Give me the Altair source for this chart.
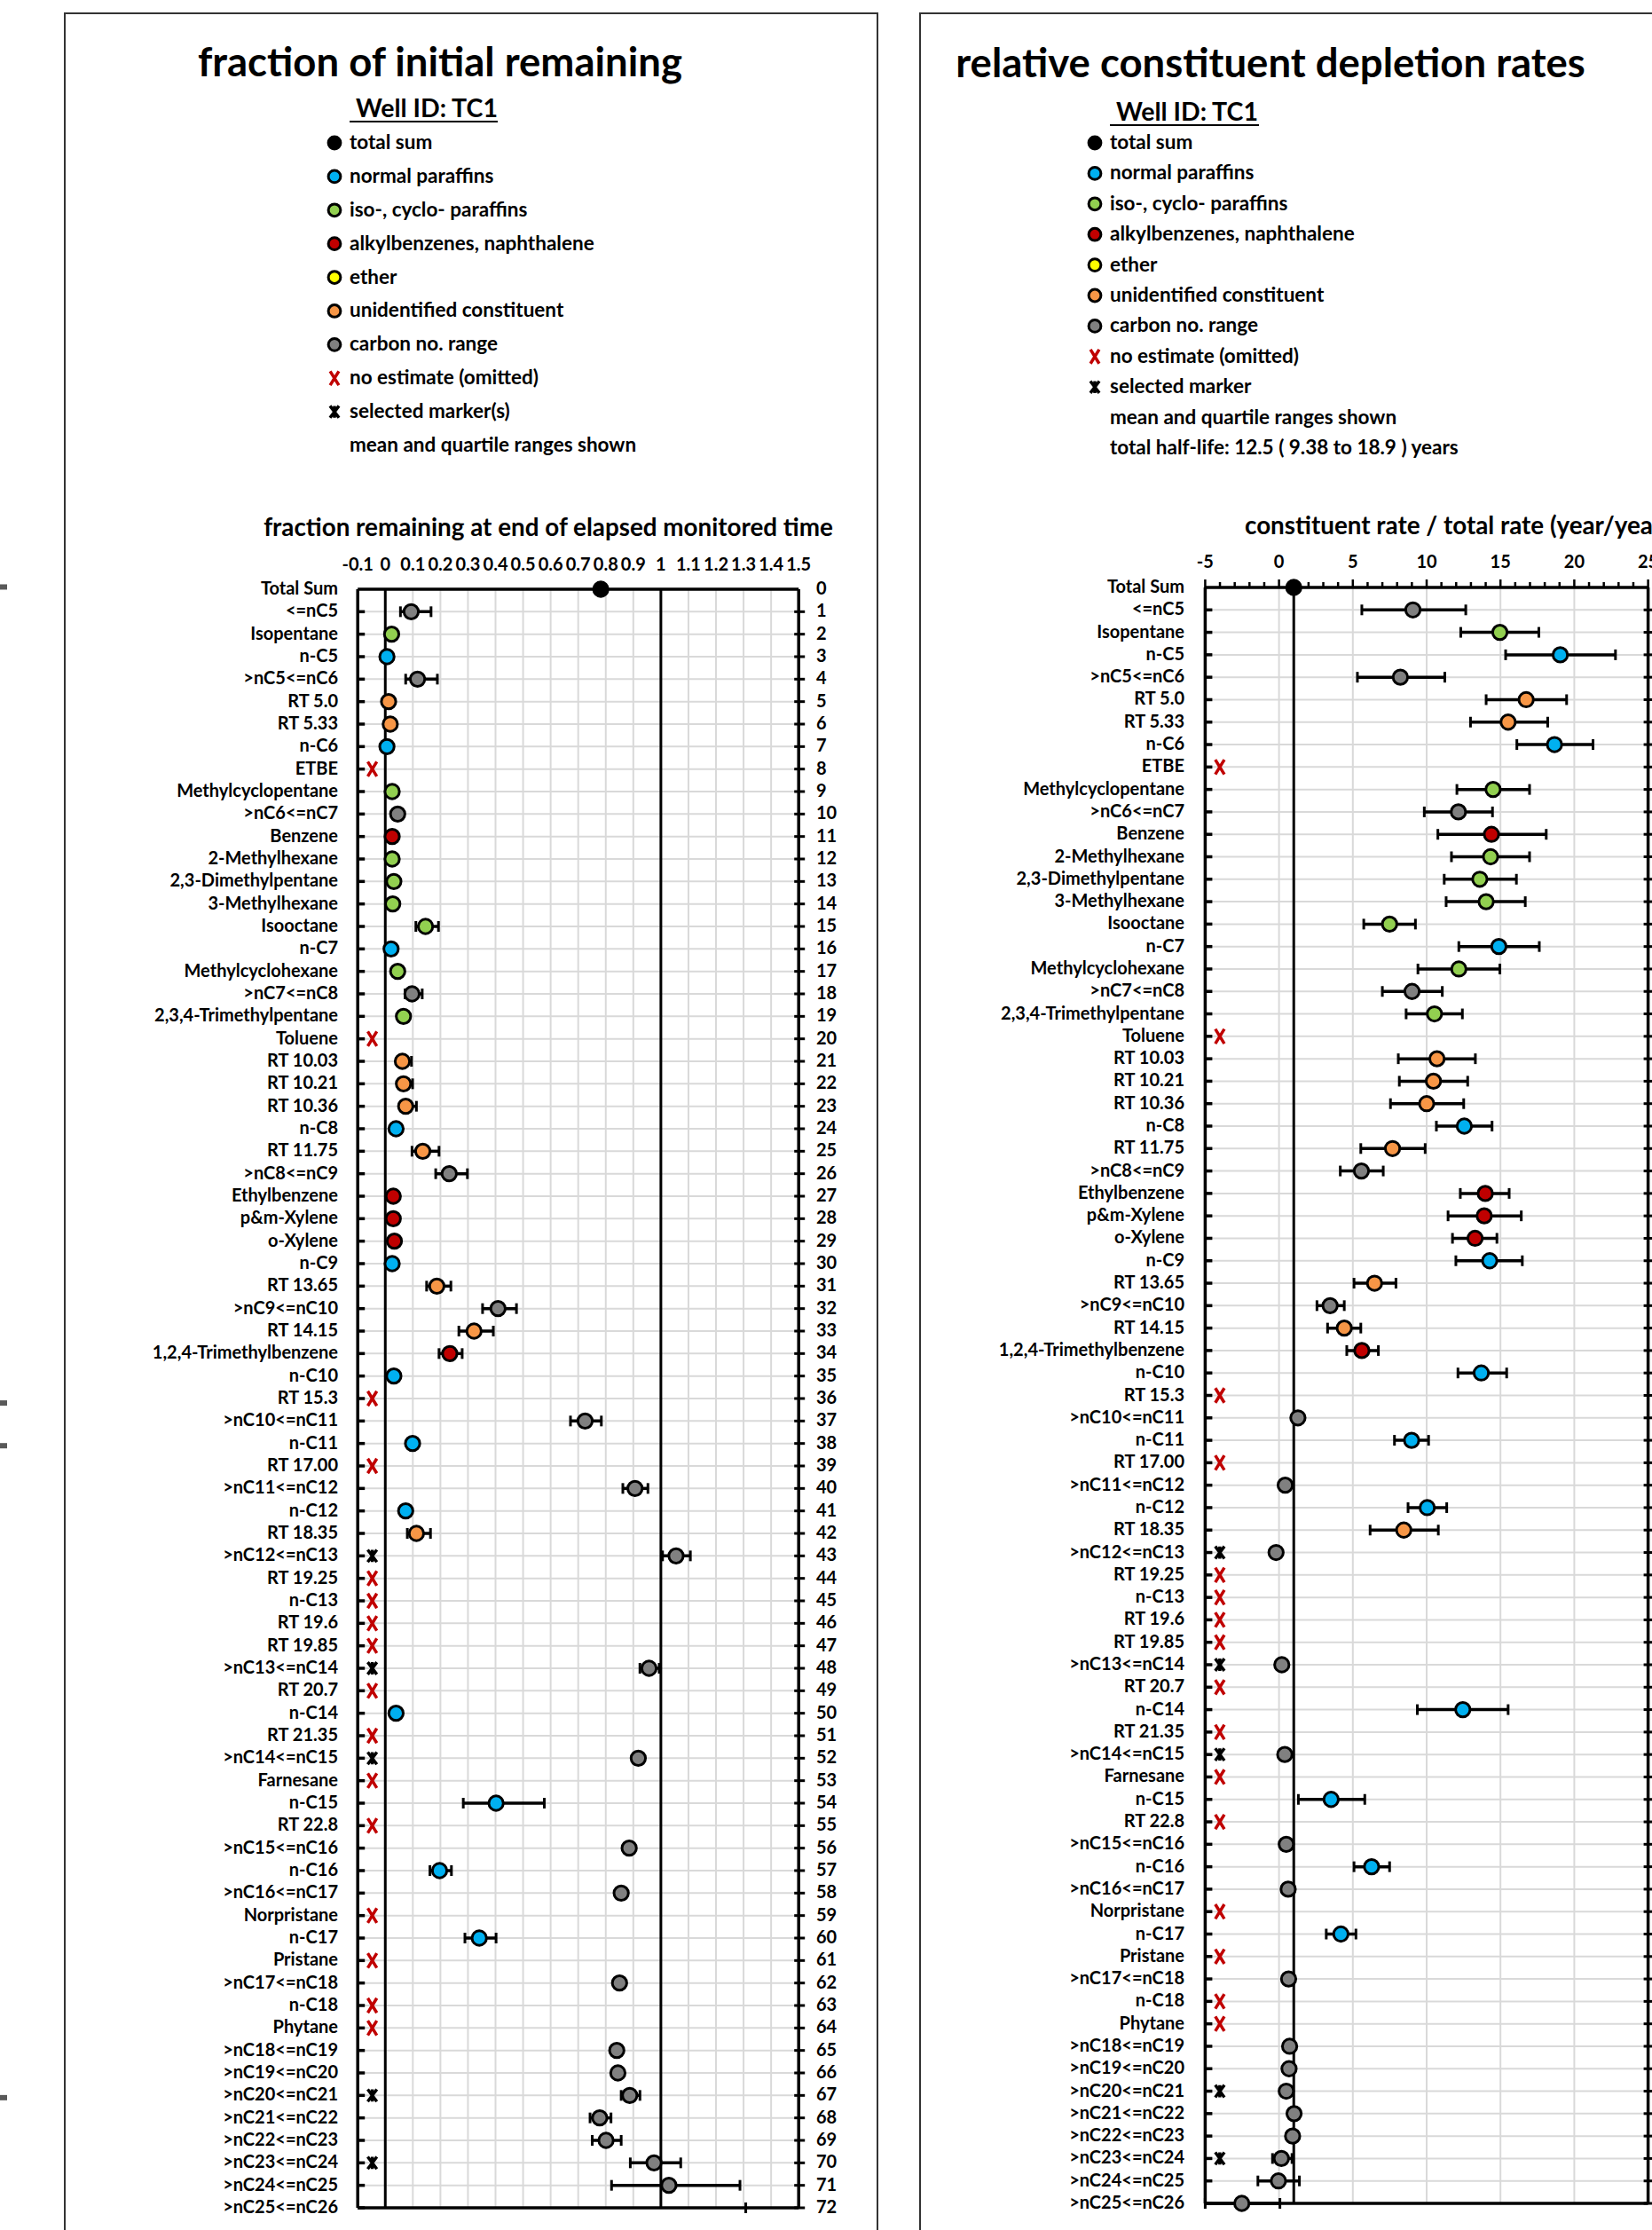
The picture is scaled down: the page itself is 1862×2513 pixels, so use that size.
import altair as alt
import pandas as pd

FONT = "Lato"

# ---------------------------------------------------------------- data
constituents = [
    "Total Sum", "<=nC5", "Isopentane", "n-C5", ">nC5<=nC6", "RT 5.0", "RT 5.33", "n-C6", "ETBE",
    "Methylcyclopentane", ">nC6<=nC7", "Benzene", "2-Methylhexane", "2,3-Dimethylpentane",
    "3-Methylhexane", "Isooctane", "n-C7", "Methylcyclohexane", ">nC7<=nC8", "2,3,4-Trimethylpentane",
    "Toluene", "RT 10.03", "RT 10.21", "RT 10.36", "n-C8", "RT 11.75", ">nC8<=nC9", "Ethylbenzene",
    "p&m-Xylene", "o-Xylene", "n-C9", "RT 13.65", ">nC9<=nC10", "RT 14.15", "1,2,4-Trimethylbenzene",
    "n-C10", "RT 15.3", ">nC10<=nC11", "n-C11", "RT 17.00", ">nC11<=nC12", "n-C12", "RT 18.35",
    ">nC12<=nC13", "RT 19.25", "n-C13", "RT 19.6", "RT 19.85", ">nC13<=nC14", "RT 20.7", "n-C14",
    "RT 21.35", ">nC14<=nC15", "Farnesane", "n-C15", "RT 22.8", ">nC15<=nC16", "n-C16", ">nC16<=nC17",
    "Norpristane", "n-C17", "Pristane", ">nC17<=nC18", "n-C18", "Phytane", ">nC18<=nC19",
    ">nC19<=nC20", ">nC20<=nC21", ">nC21<=nC22", ">nC22<=nC23", ">nC23<=nC24", ">nC24<=nC25",
    ">nC25<=nC26",
]

# T total, N normal paraffin, I iso/cyclo paraffin, A alkylbenzene, E ether,
# U unidentified, C carbon number range
groups = [
    "T", "C", "I", "N", "C", "U", "U", "N", "E", "I",
    "C", "A", "I", "I", "I", "I", "N", "I", "C", "I",
    "A", "U", "U", "U", "N", "U", "C", "A", "A", "A",
    "N", "U", "C", "U", "A", "N", "U", "C", "N", "U",
    "C", "N", "U", "C", "U", "N", "U", "U", "C", "U",
    "N", "U", "C", "I", "N", "U", "C", "N", "C", "I",
    "N", "I", "C", "N", "I", "C", "C", "C", "C", "C",
    "C", "C", "C",
]

group_colors = {
    "T": "#000000", "N": "#00b0f0", "I": "#92d050", "A": "#c00000",
    "E": "#ffff00", "U": "#f79646", "C": "#808080",
}

omitted_rows = [8, 20, 36, 39, 44, 45, 46, 47, 49, 51, 53, 55, 59, 61, 63, 64]
selected_rows = [43, 48, 52, 67, 70]

# fraction of initial remaining: mean and quartiles
frac_mean = [
    0.782, 0.094, 0.023, 0.006, 0.117, 0.012, 0.018, 0.006, None, 0.025,
    0.045, 0.025, 0.025, 0.031, 0.027, 0.146, 0.021, 0.045, 0.097, 0.066,
    None, 0.062, 0.066, 0.074, 0.039, 0.136, 0.232, 0.029, 0.029, 0.033,
    0.025, 0.187, 0.409, 0.322, 0.234, 0.031, None, 0.725, 0.099, None,
    0.906, 0.074, 0.113, 1.055, None, None, None, None, 0.957, None,
    0.039, None, 0.918, None, 0.402, None, 0.885, 0.197, 0.856, None,
    0.341, None, 0.850, None, None, 0.840, 0.844, 0.887, 0.778, 0.801,
    0.975, 1.029, None,
]
frac_lo = [
    None, 0.055, None, None, 0.074, None, None, None, None, None,
    None, None, None, None, None, 0.111, None, None, 0.072, None,
    None, 0.045, 0.050, 0.055, None, 0.097, 0.183, None, None, None,
    None, 0.150, 0.353, 0.267, 0.195, None, None, 0.672, None, None,
    0.862, None, 0.080, 1.006, None, None, None, None, 0.924, None,
    None, None, 0.905, None, 0.283, None, None, 0.162, None, None,
    0.289, None, None, None, None, None, None, 0.856, 0.743, 0.751,
    0.889, 0.821, 1.308,
]
frac_hi = [
    None, 0.166, None, None, 0.189, None, None, None, None, None,
    None, None, None, None, None, 0.193, None, None, 0.134, None,
    None, 0.095, 0.099, 0.113, None, 0.195, 0.298, None, None, None,
    None, 0.238, 0.476, 0.392, 0.279, None, None, 0.784, None, None,
    0.953, None, 0.164, 1.107, None, None, None, None, 0.994, None,
    None, None, 0.930, None, 0.577, None, None, 0.240, None, None,
    0.402, None, None, None, None, None, None, 0.924, 0.819, 0.856,
    1.072, 1.287, None,
]

# constituent rate relative to total rate: mean and quartiles
rate_mean = [
    1.00, 9.07, 14.96, 19.05, 8.22, 16.74, 15.52, 18.66, None, 14.50,
    12.15, 14.39, 14.33, 13.60, 14.03, 7.49, 14.89, 12.18, 9.01, 10.53,
    None, 10.70, 10.46, 10.00, 12.55, 7.69, 5.58, 13.97, 13.90, 13.28,
    14.27, 6.47, 3.46, 4.42, 5.61, 13.70, None, 1.28, 8.98, None,
    0.42, 10.04, 8.45, -0.20, None, None, None, None, 0.19, None,
    12.45, None, 0.39, None, 3.53, None, 0.49, 6.27, 0.62, None,
    4.19, None, 0.65, None, None, 0.72, 0.68, 0.49, 1.02, 0.92,
    0.16, -0.04, -2.52,
]
rate_lo = [
    None, 5.61, 12.31, 15.35, 5.31, 14.03, 12.97, 16.11, None, 12.05,
    9.84, 10.76, 11.68, 11.19, 11.32, 5.74, 12.18, 9.41, 7.00, 8.61,
    None, 8.08, 8.15, 7.55, 10.66, 5.54, 4.15, 12.28, 11.45, 11.75,
    11.98, 5.08, 2.57, 3.29, 4.59, 12.12, None, None, 7.82, None,
    None, 8.74, 6.17, None, None, None, None, None, None, None,
    9.37, None, None, None, 1.31, None, None, 5.08, None, None,
    3.20, None, None, None, None, None, None, None, None, None,
    -0.44, -1.43, -5.00,
]
rate_hi = [
    None, 12.65, 17.60, 22.79, 11.23, 19.48, 18.20, 21.27, None, 16.97,
    14.46, 18.10, 16.97, 16.08, 16.68, 9.24, 17.63, 14.96, 11.06, 12.42,
    None, 13.30, 12.78, 12.51, 14.43, 9.90, 7.06, 15.59, 16.41, 14.76,
    16.48, 7.92, 4.42, 5.54, 6.73, 15.42, None, None, 10.13, None,
    None, 11.36, 10.79, None, None, None, None, None, None, None,
    15.52, None, None, None, 5.81, None, None, 7.49, None, None,
    5.21, None, None, None, None, None, None, None, None, None,
    0.88, 1.38, 0.06,
]

frac_ticks = [-0.1, 0, 0.1, 0.2, 0.3, 0.4, 0.5, 0.6, 0.7, 0.8, 0.9, 1, 1.1, 1.2, 1.3, 1.4, 1.5]
frac_tick_labels = ["-0.1", "0", "0.1", "0.2", "0.3", "0.4", "0.5", "0.6", "0.7", "0.8", "0.9",
                    "1", "1.1", "1.2", "1.3", "1.4", "1.5"]
rate_ticks = [-5, 0, 5, 10, 15, 20, 25]
rate_minor_ticks = list(range(-5, 26))

legend_left = ["total sum", "normal paraffins", "iso-, cyclo- paraffins", "alkylbenzenes, naphthalene",
               "ether", "unidentified constituent", "carbon no. range", "no estimate (omitted)",
               "selected marker(s)", "mean and quartile ranges shown"]
legend_right = ["total sum", "normal paraffins", "iso-, cyclo- paraffins", "alkylbenzenes, naphthalene",
                "ether", "unidentified constituent", "carbon no. range", "no estimate (omitted)",
                "selected marker", "mean and quartile ranges shown",
                "total half-life: 12.5 ( 9.38 to 18.9 ) years"]
legend_groups = ["T", "N", "I", "A", "E", "U", "C"]

title_left = "fraction of initial remaining"
title_right = "relative constituent depletion rates"
well_id = "Well ID: TC1"
axis_title_left = "fraction remaining at end of elapsed monitored time"
axis_title_right = "constituent rate / total rate (year/year)"

# neighbouring panel edge ticks (row positions)
edge_rows = [-0.1, 36.2, 38.1, 67.1]

# ---------------------------------------------------------------- layout
W, H = 1862, 2513
N_ROWS = len(constituents)
LAST = N_ROWS - 1

LEFT = dict(xdom=[-0.1, 1.5], xrange=[403.2, 900.2], yrange=[664, 2488],
            label_x=381, legend_range=[161, 502], legend_x=377, legend_text_x=394)
RIGHT = dict(xdom=[-5, 25], xrange=[1358.4, 1857.6], yrange=[662, 2483],
             label_x=1335, legend_range=[161, 505], legend_x=1234, legend_text_x=1251)

X_PATH = "M-0.62,-1L0.62,1M0.62,-1L-0.62,1"
STAR_PATH = "M-0.75,-1L0.75,1M0.75,-1L-0.75,1M0,-1L0,1"


def scales(p):
    sx = alt.Scale(domain=p["xdom"], range=p["xrange"], nice=False, zero=False)
    sy = alt.Scale(domain=[0, LAST], range=p["yrange"], nice=False, zero=False)
    return sx, sy


def segments(df, p, color, width, **kw):
    sx, sy = scales(p)
    return alt.Chart(df).mark_rule(color=color, strokeWidth=width, **kw).encode(
        x=alt.X("x0:Q", scale=sx, axis=None),
        x2="x1:Q",
        y=alt.Y("y0:Q", scale=sy, axis=None),
        y2="y1:Q",
    )


def text_at(s, x, y, size, align="center", baseline="alphabetic"):
    return alt.Chart(pd.DataFrame({"t": [s]})).mark_text(
        font=FONT, fontWeight="bold", fontSize=size, align=align, baseline=baseline, color="black"
    ).encode(x=alt.value(x), y=alt.value(y), text="t:N")


def panel_layers(p, mean, lo, hi, grid_ticks, ref_lines, tick_values, tick_labels, label_y):
    sx, sy = scales(p)
    x0, x1 = p["xdom"]
    rows = list(range(N_ROWS))
    layers = []

    # grid
    layers.append(segments(pd.DataFrame({"x0": grid_ticks, "x1": grid_ticks,
                                         "y0": 0, "y1": LAST}), p, "#d9d9d9", 2))
    layers.append(segments(pd.DataFrame({"x0": x0, "x1": x1, "y0": rows, "y1": rows}),
                           p, "#d9d9d9", 2))
    # reference lines
    layers.append(segments(pd.DataFrame({"x0": ref_lines, "x1": ref_lines,
                                         "y0": 0, "y1": LAST}), p, "black", 3))
    # plot frame
    frame = pd.DataFrame({"x0": [x0, x0, x0, x1], "x1": [x1, x1, x0, x1],
                          "y0": [0, LAST, 0, 0], "y1": [0, LAST, LAST, LAST]})
    layers.append(segments(frame, p, "black", 3.5))
    # row ticks on both sides
    layers.append(segments(pd.DataFrame({"x0": x0, "x1": x0, "y0": rows[1:], "y1": rows[1:]}),
                           p, "black", 3.5, x2Offset=8))
    layers.append(segments(pd.DataFrame({"x0": x1, "x1": x1, "y0": rows[1:], "y1": rows[1:]}),
                           p, "black", 3, xOffset=-5, x2Offset=7))

    # quartile ranges
    bars = pd.DataFrame({"row": rows, "lo": lo, "hi": hi}).dropna()
    layers.append(alt.Chart(bars).mark_rule(color="black", strokeWidth=3.5).encode(
        x=alt.X("lo:Q", scale=sx, axis=None), x2="hi:Q",
        y=alt.Y("row:Q", scale=sy, axis=None)))
    caps = pd.concat([
        pd.DataFrame({"row": rows, "v": lo}),
        pd.DataFrame({"row": rows, "v": hi}),
    ]).dropna()
    layers.append(alt.Chart(caps).mark_rule(color="black", strokeWidth=3,
                                            yOffset=-6, y2Offset=6).encode(
        x=alt.X("v:Q", scale=sx, axis=None),
        y=alt.Y("row:Q", scale=sy, axis=None), y2="row:Q"))

    # means
    pts = pd.DataFrame({"row": rows, "mean": mean,
                        "color": [group_colors[g] for g in groups]}).dropna()
    layers.append(alt.Chart(pts).mark_circle(size=265, stroke="black", strokeWidth=3,
                                             opacity=1).encode(
        x=alt.X("mean:Q", scale=sx, axis=None),
        y=alt.Y("row:Q", scale=sy, axis=None),
        fill=alt.Fill("color:N", scale=None)))

    # no-estimate and selected markers near the left frame
    mark_x = x0 + (x1 - x0) * 0.033
    layers.append(alt.Chart(pd.DataFrame({"row": omitted_rows, "x": mark_x})).mark_point(
        shape=X_PATH, size=270, stroke="#c00000", strokeWidth=3.5, filled=False, opacity=1).encode(
        x=alt.X("x:Q", scale=sx, axis=None), y=alt.Y("row:Q", scale=sy, axis=None)))
    layers.append(alt.Chart(pd.DataFrame({"row": selected_rows, "x": mark_x})).mark_point(
        shape=STAR_PATH, size=190, stroke="black", strokeWidth=3.5, filled=False, opacity=1).encode(
        x=alt.X("x:Q", scale=sx, axis=None), y=alt.Y("row:Q", scale=sy, axis=None)))

    # row labels
    layers.append(alt.Chart(pd.DataFrame({"row": rows, "name": constituents})).mark_text(
        font=FONT, fontWeight="bold", fontSize=20, align="right", baseline="middle",
        color="black").encode(
        x=alt.value(p["label_x"]), y=alt.Y("row:Q", scale=sy, axis=None), text="name:N"))

    # top axis labels
    layers.append(alt.Chart(pd.DataFrame({"v": tick_values, "lab": tick_labels})).mark_text(
        font=FONT, fontWeight="bold", fontSize=20, align="center", baseline="middle",
        color="black").encode(
        x=alt.X("v:Q", scale=sx, axis=None), y=alt.value(label_y), text="lab:N"))
    return layers


def legend_layers(p, labels):
    ly = alt.Scale(domain=[0, len(labels) - 1], range=p["legend_range"], nice=False, zero=False)
    n = len(legend_groups)
    circ = pd.DataFrame({"i": list(range(n)), "color": [group_colors[g] for g in legend_groups]})
    out = [
        alt.Chart(circ).mark_circle(size=190, stroke="black", strokeWidth=3, opacity=1).encode(
            x=alt.value(p["legend_x"]), y=alt.Y("i:Q", scale=ly, axis=None),
            fill=alt.Fill("color:N", scale=None)),
        alt.Chart(pd.DataFrame({"i": [n]})).mark_point(
            shape=X_PATH, size=250, stroke="#c00000", strokeWidth=3.5, filled=False, opacity=1).encode(
            x=alt.value(p["legend_x"]), y=alt.Y("i:Q", scale=ly, axis=None)),
        alt.Chart(pd.DataFrame({"i": [n + 1]})).mark_point(
            shape=STAR_PATH, size=180, stroke="black", strokeWidth=3.5, filled=False, opacity=1).encode(
            x=alt.value(p["legend_x"]), y=alt.Y("i:Q", scale=ly, axis=None)),
        alt.Chart(pd.DataFrame({"i": list(range(len(labels))), "t": labels})).mark_text(
            font=FONT, fontWeight="bold", fontSize=22.5, align="left", baseline="middle",
            color="black").encode(
            x=alt.value(p["legend_text_x"]), y=alt.Y("i:Q", scale=ly, axis=None), text="t:N"),
    ]
    return out


def box(x0, x1, y0, y1):
    return alt.Chart(pd.DataFrame({"a": [0]})).mark_rect(
        fill=None, stroke="#333333", strokeWidth=2).encode(
        x=alt.value(x0), x2=alt.value(x1), y=alt.value(y0), y2=alt.value(y1))


def underline(x0, x1, y):
    return alt.Chart(pd.DataFrame({"a": [0]})).mark_rule(color="black", strokeWidth=2).encode(
        x=alt.value(x0), x2=alt.value(x1), y=alt.value(y))


layers = [box(73, 989, 15, 2600), box(1037, 1900, 15, 2600)]

# left panel: fraction remaining
layers += panel_layers(LEFT, frac_mean, frac_lo, frac_hi, frac_ticks, [0, 1],
                       frac_ticks, frac_tick_labels, 637)
sxL, syL = scales(LEFT)
layers.append(alt.Chart(pd.DataFrame({"row": list(range(N_ROWS))})).mark_text(
    font=FONT, fontWeight="bold", fontSize=20, align="left", baseline="middle", color="black").encode(
    x=alt.value(920), y=alt.Y("row:Q", scale=syL, axis=None), text="row:Q"))
layers.append(alt.Chart(pd.DataFrame({"row": edge_rows})).mark_rule(
    color="#595959", strokeWidth=6).encode(
    x=alt.value(0), x2=alt.value(8), y=alt.Y("row:Q", scale=syL, axis=None)))

# right panel: relative depletion rates
layers += panel_layers(RIGHT, rate_mean, rate_lo, rate_hi, rate_ticks, [1],
                       rate_ticks, [str(t) for t in rate_ticks], 634)
minor = [t for t in rate_minor_ticks if t % 5 != 0]
layers.append(segments(pd.DataFrame({"x0": minor, "x1": minor, "y0": 0, "y1": 0}),
                       RIGHT, "black", 2.5, y2Offset=-6))
layers.append(segments(pd.DataFrame({"x0": rate_ticks, "x1": rate_ticks, "y0": 0, "y1": 0}),
                       RIGHT, "black", 2.5, y2Offset=-9))

# headers and legends
layers += [
    text_at(title_left, 496, 86, 45.5),
    text_at(title_right, 1432, 87, 45.5),
    text_at(well_id, 481, 132, 28.5),
    underline(394, 561, 137),
    text_at(well_id, 1338, 136, 28.5),
    underline(1251, 1419, 141),
    text_at(axis_title_left, 618, 604, 27.8),
    text_at(axis_title_right, 1403, 602, 27.8, align="left"),
]
layers += legend_layers(LEFT, legend_left)
layers += legend_layers(RIGHT, legend_right)

chart = alt.layer(*layers).resolve_scale(x="independent", y="independent").properties(
    width=W, height=H, padding=0, autosize=alt.AutoSizeParams(type="none"),
    background="white",
).configure_view(stroke=None)

chart.save("out.html", embed_options={"renderer": "svg", "actions": False})
